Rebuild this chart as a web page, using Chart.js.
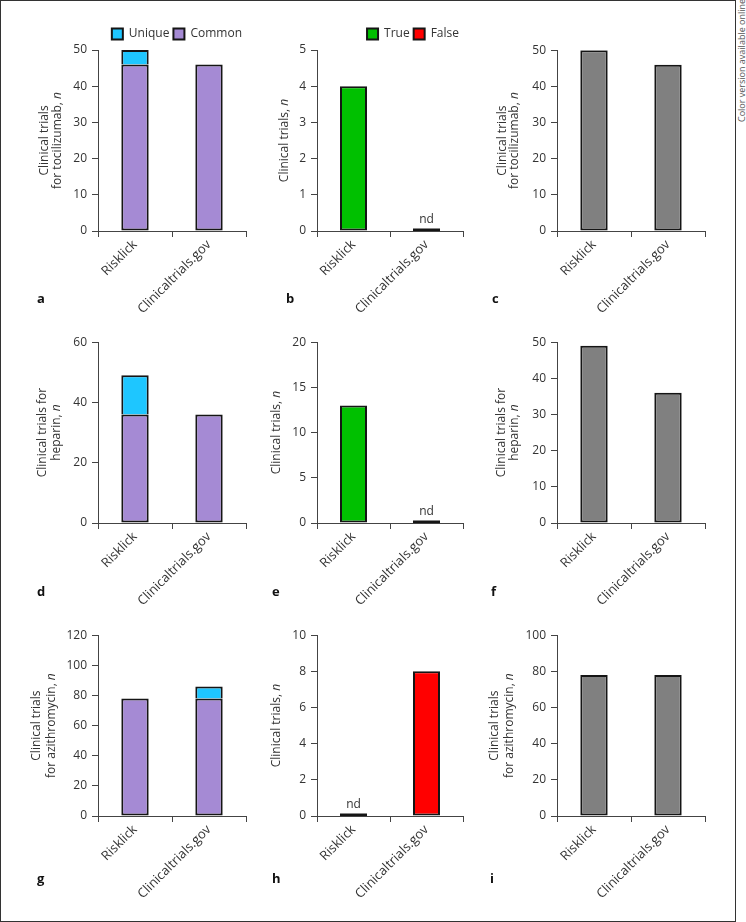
<!DOCTYPE html>
<html>
<head>
<meta charset="utf-8">
<script src="https://cdn.jsdelivr.net/npm/chart.js@4/dist/chart.umd.min.js"></script>
<style>
  body { margin: 0; background: #fff; font-family: 'Open Sans', sans-serif; }
  #page { position: relative; width: 746px; height: 922px; overflow: hidden; }
  #frame { position: absolute; left: 0; top: 0; width: 736px; height: 922px; box-sizing: border-box; border: 1px solid #333; }
  .panel { position: absolute; }
  .letter { position: absolute; font-weight: bold; font-size: 13px; line-height: 1; color: #111; }
  #note { position: absolute; left: 736px; top: 122px; transform: rotate(-90deg); transform-origin: 0 0;
          font-size: 9px; line-height: 11px; color: #555; white-space: nowrap; }
</style>
</head>
<body>
<div id="page">
  <div id="frame"></div>
  <div id="note">Color version available online</div>
</div>
<script>
// categories and values
const categories = ['Risklick', 'Clinicaltrials.gov'];

// tocilizumab
const tociCommon = [46, 46];
const tociUnique = [4, 0];
const tociTrue = [4, 0];
const tociFalse = [0, 0];
const tociAll = [50, 46];

// heparin
const hepCommon = [36, 36];
const hepUnique = [13, 0];
const hepTrue = [13, 0];
const hepFalse = [0, 0];
const hepAll = [49, 36];

// azithromycin
const aziCommon = [78, 78];
const aziUnique = [0, 8];
const aziTrue = [0, 0];
const aziFalse = [0, 8];
const aziAll = [78, 78];

// y axis ranges
const yMax = [50, 5, 50, 60, 20, 50, 120, 10, 100];
const yStep = [10, 1, 10, 20, 5, 10, 20, 2, 20];

const yTitles = [
  ['Clinical trials', 'for tocilizumab, n'],
  ['Clinical trials, n'],
  ['Clinical trials', 'for tocilizumab, n'],
  ['Clinical trials for', 'heparin, n'],
  ['Clinical trials, n'],
  ['Clinical trials for', 'heparin, n'],
  ['Clinical trials', 'for azithromycin, n'],
  ['Clinical trials, n'],
  ['Clinical trials', 'for azithromycin, n']
];
const panelLetters = ['a', 'b', 'c', 'd', 'e', 'f', 'g', 'h', 'i'];

// colours
const purple = '#a58ad4';
const cyan = '#1ec6ff';
const green = '#00c000';
const red = '#ff0000';
const grey = '#808080';
const edge = '#151515';

Chart.defaults.font.family = "'Open Sans', sans-serif";
Chart.defaults.font.size = 12;
Chart.defaults.color = '#333';

// layout
const rowTops = [50, 342, 635];
const axisLefts = [98, 317, 557];
const areaWidths = [148, 146, 148];
const AREA_H = 181;
const Y_W = 95, X_H = 100, PAD_R = 8;
const titleOffsets = [[53, 40], [32], [54, 42], [55, 41], [40], [55, 42], [61, 46], [40], [62, 47]];
const letterPos = [[37, 292], [286, 292], [492, 292], [37, 585], [272, 585], [491, 585], [37, 872], [272, 872], [490, 872]];

// rotated y title, a trailing "n" is set in italics
const yTitlePlugin = {
  id: 'yTitle',
  afterDraw(chart, args, opts) {
    if (!opts.lines) return;
    const { ctx, chartArea } = chart;
    const cy = (chartArea.top + chartArea.bottom) / 2;
    opts.lines.forEach((line, i) => {
      let head = line, tail = '';
      if (line.endsWith(', n')) { head = line.slice(0, -1); tail = 'n'; }
      ctx.save();
      ctx.translate(chartArea.left - opts.offsets[i], cy);
      ctx.rotate(-Math.PI / 2);
      ctx.textBaseline = 'middle';
      ctx.textAlign = 'left';
      ctx.fillStyle = '#333';
      ctx.font = "12px 'Open Sans'";
      const w1 = ctx.measureText(head).width;
      ctx.font = "italic 12px 'Open Sans'";
      const w2 = ctx.measureText(tail).width;
      const x0 = -(w1 + w2) / 2;
      ctx.font = "12px 'Open Sans'";
      ctx.fillText(head, x0, 0);
      ctx.font = "italic 12px 'Open Sans'";
      ctx.fillText(tail, x0 + w1, 0);
      ctx.restore();
    });
  }
};

// "nd": nothing detected for a category, drawn as a flat bar on the axis
const ndPlugin = {
  id: 'nd',
  afterDatasetsDraw(chart, args, opts) {
    if (!opts.show) return;
    const { ctx, scales: { x, y } } = chart;
    const meta = chart.getDatasetMeta(0);
    chart.data.labels.forEach((lab, i) => {
      const sum = chart.data.datasets.reduce((s, d) => s + (d.data[i] || 0), 0);
      if (sum !== 0) return;
      const cx = x.getPixelForValue(i);
      const w = meta.data[i].width;
      const y0 = y.getPixelForValue(0);
      ctx.save();
      ctx.fillStyle = edge;
      ctx.fillRect(cx - w / 2, y0 - 2.5, w, 2.5);
      ctx.fillStyle = '#333';
      ctx.font = "12px 'Open Sans'";
      ctx.textAlign = 'center';
      ctx.textBaseline = 'bottom';
      ctx.fillText('nd', cx, y0 - 5);
      ctx.restore();
    });
  }
};

function bars(label, data, color, skip) {
  return {
    label: label, data: data, backgroundColor: color,
    borderColor: edge, borderWidth: 2, borderSkipped: skip || false,
    barPercentage: 0.37, categoryPercentage: 1
  };
}

function panelConfig(p) {
  const kind = p % 3;
  const row = Math.floor(p / 3);
  let datasets;
  if (kind === 0) {
    const common = [tociCommon, hepCommon, aziCommon][row];
    const unique = [tociUnique, hepUnique, aziUnique][row];
    datasets = [bars('Common', common, purple), bars('Unique', unique, cyan, 'bottom')];
  } else if (kind === 1) {
    const t = [tociTrue, hepTrue, aziTrue][row];
    const f = [tociFalse, hepFalse, aziFalse][row];
    datasets = [bars('True', t, green), bars('False', f, red)];
  } else {
    datasets = [bars('All', [tociAll, hepAll, aziAll][row], grey)];
  }
  const showLegend = row === 0 && kind !== 2;
  return {
    type: 'bar',
    data: { labels: categories, datasets: datasets },
    plugins: [yTitlePlugin, ndPlugin],
    options: {
      responsive: false,
      maintainAspectRatio: false,
      animation: false,
      layout: { padding: { top: showLegend ? 0 : 12, right: PAD_R, left: 0, bottom: 0 } },
      plugins: {
        legend: {
          display: showLegend,
          position: 'top',
          align: 'end',
          reverse: kind === 0,
          labels: { boxWidth: 11, boxHeight: 11, padding: 4, color: '#333' }
        },
        tooltip: { enabled: false },
        yTitle: { lines: yTitles[p], offsets: titleOffsets[p] },
        nd: { show: kind === 1 }
      },
      scales: {
        x: {
          stacked: true,
          grid: { offset: true, drawOnChartArea: false, tickLength: 6, color: '#444' },
          border: { color: '#444' },
          ticks: { minRotation: 45, maxRotation: 45, autoSkip: false, padding: 0, color: '#333', font: { size: 13 } },
          afterFit(s) { s.height = X_H; }
        },
        y: {
          stacked: true,
          min: 0,
          max: yMax[p],
          ticks: { stepSize: yStep[p], padding: 5, color: '#333' },
          grid: { drawOnChartArea: false, tickLength: 6, color: '#444' },
          border: { color: '#444' },
          afterFit(s) { s.width = Y_W; }
        }
      }
    }
  };
}

const page = document.getElementById('page');

function makeChart(wrap, p, w, h) {
  wrap.innerHTML = '';
  const canvas = document.createElement('canvas');
  canvas.width = w;
  canvas.height = h;
  canvas.style.width = w + 'px';
  canvas.style.height = h + 'px';
  wrap.appendChild(canvas);
  return new Chart(canvas, panelConfig(p));
}

for (let p = 0; p < 9; p++) {
  const row = Math.floor(p / 3), col = p % 3;
  const wrap = document.createElement('div');
  wrap.className = 'panel';
  page.appendChild(wrap);
  const w = Y_W + areaWidths[col] + PAD_R;
  let h = 40 + AREA_H + X_H;
  let chart = makeChart(wrap, p, w, h);
  const got = chart.chartArea.bottom - chart.chartArea.top;
  if (Math.abs(got - AREA_H) > 0.5) {
    chart.destroy();
    h = Math.round(h + AREA_H - got);
    chart = makeChart(wrap, p, w, h);
  }
  wrap.style.left = (axisLefts[col] - chart.chartArea.left) + 'px';
  wrap.style.top = (rowTops[row] - chart.chartArea.top) + 'px';

  const letter = document.createElement('div');
  letter.className = 'letter';
  letter.textContent = panelLetters[p];
  letter.style.left = letterPos[p][0] + 'px';
  letter.style.top = letterPos[p][1] + 'px';
  page.appendChild(letter);
}
</script>
</body>
</html>
